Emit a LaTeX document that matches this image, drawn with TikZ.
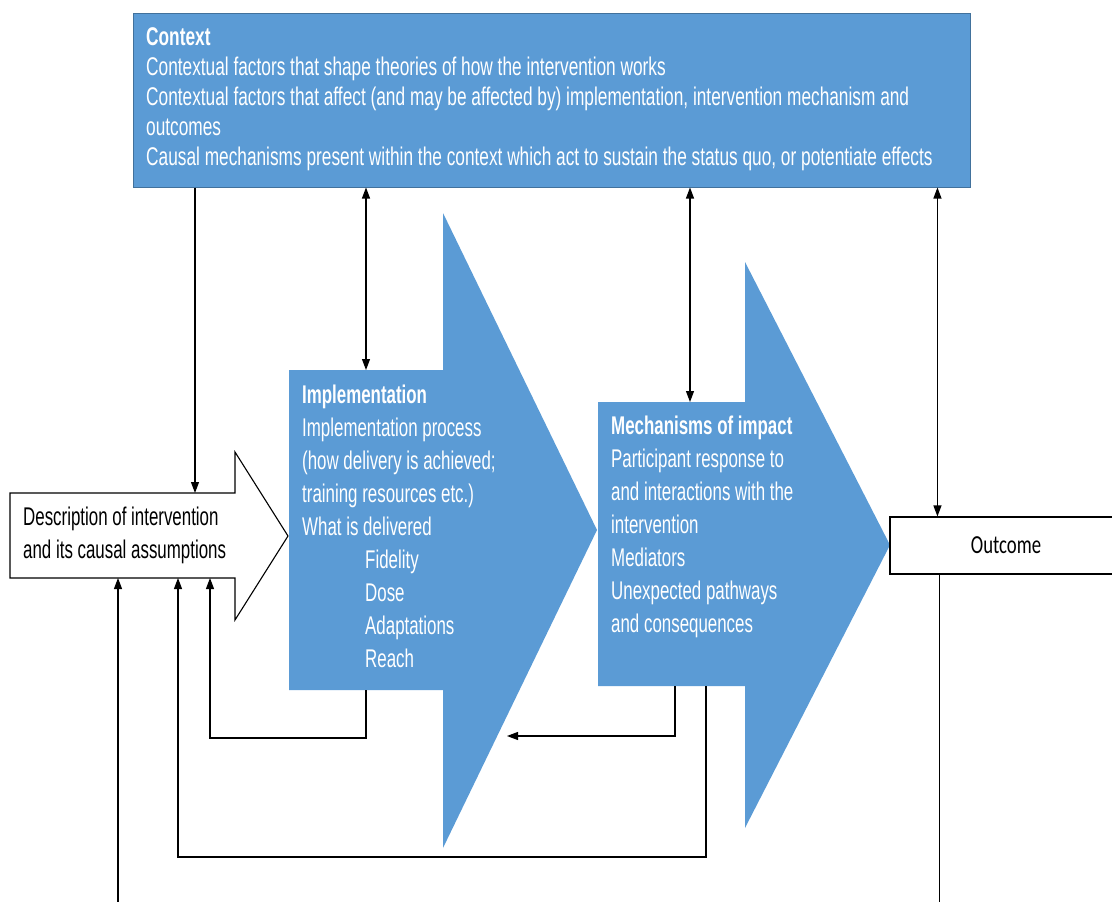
\documentclass[tikz,border=0pt]{standalone}
\usepackage{fontspec}
\setmainfont{Liberation Sans}[FakeStretch=0.66]
\newfontfamily\ctxfont{Liberation Sans}[FakeStretch=0.675]
\newfontfamily\outfont{Carlito}[FakeStretch=0.72]
\usetikzlibrary{arrows.meta}
\definecolor{boxblue}{HTML}{5B9BD5}
\definecolor{boxedge}{HTML}{41719C}
\begin{document}
\begin{tikzpicture}[x=1pt, y=-1pt,
    body/.style={draw=none, inner sep=0, outer sep=0},
    txt/.style={inner sep=0, anchor=north west, align=left, text=white, font=\fontsize{25.6}{33}\selectfont},
    arr/.style={-{Triangle[length=11pt, width=8pt]}, line width=1.1pt},
    darr/.style={{Triangle[length=11pt, width=8pt]}-{Triangle[length=11pt, width=8pt]}, line width=1.1pt}
]
    \useasboundingbox (0,0) rectangle (1112,902);
    % arrow shapes
    \draw[line width=1.1pt, fill=white] (10,493) -- (235,493) -- (235,452) -- (288,536)
        -- (235,620) -- (235,578) -- (10,578) -- cycle;
    \fill[boxblue] (289,370) -- (443,370) -- (443,213) -- (597,530) -- (443,848)
        -- (443,690) -- (289,690) -- cycle;
    \fill[boxblue] (598,402) -- (745,402) -- (745,262) -- (890,545) -- (745,828)
        -- (745,686) -- (598,686) -- cycle;

    \node[draw=boxedge, fill=boxblue, line width=1pt, minimum width=837pt, minimum height=174pt, inner sep=0] (ctx) at (551.5,100) {};
    \node[txt, font=\ctxfont\fontsize{25.6}{30}\selectfont] (ctxtxt) at (146,27) {\textbf{Context}\\
        Contextual factors that shape theories of how the intervention works\\
        Contextual factors that affect (and may be affected by) implementation, intervention mechanism and\\
        outcomes\\
        Causal mechanisms present within the context which act to sustain the status quo, or potentiate effects};

    \node[body, minimum width=225pt, minimum height=85pt] (desc) at (122.5,535.5) {};
    \node[txt, text=black] (desctxt) at (23,507) {Description of intervention\\ and its causal assumptions};

    \node[body, minimum width=154pt, minimum height=320pt] (impl) at (366,530) {};
    \node[txt] (impltxt) at (302,385) {\textbf{Implementation}\\
        Implementation process\\
        (how delivery is achieved;\\
        training resources etc.)\\
        What is delivered\\
        \hspace*{63pt}Fidelity\\
        \hspace*{63pt}Dose\\
        \hspace*{63pt}Adaptations\\
        \hspace*{63pt}Reach};

    \node[body, minimum width=147pt, minimum height=284pt] (mech) at (671.5,544) {};
    \node[txt] (mechtxt) at (611,416) {\textbf{Mechanisms of impact}\\
        Participant response to\\
        and interactions with the\\
        intervention\\
        Mediators\\
        Unexpected pathways\\
        and consequences};

    \node[draw, line width=1.1pt, fill=white, minimum width=232pt, minimum height=57pt, inner sep=0,
        font=\outfont\fontsize{26}{30}\selectfont] (outc) at (1006,545.5) {Outcome};

    % connectors
    \coordinate (d1) at ([xshift=185pt]desc.north west);
    \coordinate (d2) at ([xshift=200pt]desc.south west);
    \coordinate (d3) at ([xshift=168pt]desc.south west);
    \coordinate (d4) at ([xshift=108pt]desc.south west);
    \coordinate (m1) at ([xshift=92pt]mech.north west);
    \coordinate (m2) at ([xshift=77pt]mech.south west);
    \coordinate (m3) at ([xshift=108pt]mech.south west);
    \coordinate (o1) at ([xshift=48pt]outc.north west);
    \coordinate (o2) at ([xshift=50pt]outc.south west);
    \coordinate (gap) at (507,736);
    \coordinate (bot) at (0,905);

    \draw[arr] (d1 |- ctx.south) -- (d1);
    \draw[darr] (ctx.south -| impl.north) -- (impl.north);
    \draw[darr] (ctx.south -| m1) -- (m1);
    \draw[darr] (ctx.south -| o1) -- (o1);
    \draw[line width=1.1pt] (o2) -- (o2 |- bot);
    \draw[arr] (d4 |- bot) -- (d4);
    \draw[arr] (impl.south) -- ++(0,48) -| (d2);
    \draw[arr] (m2) |- (gap);
    \draw[arr] (m3) -- ++(0,171) -| (d3);
\end{tikzpicture}
\end{document}
